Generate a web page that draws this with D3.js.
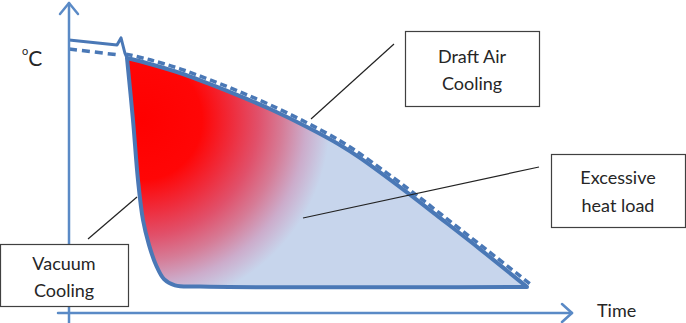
<!DOCTYPE html>
<html>
<head>
<meta charset="utf-8">
<script src="https://cdn.jsdelivr.net/npm/d3@7"></script>
<style>
  body { margin: 0; background: #fff; }
  svg { display: block; }
  .note text { font-family: Lato, 'Open Sans', sans-serif; font-size: 18px; fill: #262626; text-anchor: middle; }
</style>
</head>
<body>
<div id="chart"></div>
<script>
// time / temperature in arbitrary units (0-100)
const preCoolSolid = [[0, 91], [9.6, 89.3], [10.4, 91.7], [11.2, 86.5], [11.6, 85]];
const preCoolDashed = [[0, 88], [10, 86]];
const vacuumEdge = [
  [11.6, 85], [12.8, 64.3], [13.8, 44.3], [14.8, 31], [16, 22.7], [17.4, 16],
  [19, 11.3], [21.2, 9.2], [26.2, 8.8], [91.6, 8.7]
];
const draftEdge = [
  [11.6, 85], [16.2, 83], [22.2, 80], [28.2, 76.3], [34.2, 72.3], [40.2, 68], [47.6, 62],
  [54.2, 56], [58.2, 51.7], [67.6, 40.2], [74.2, 31.7], [82.2, 21.3], [91.6, 8.7]
];
const draftDashed = [
  [11.4, 86.3], [16.2, 84.4], [22.2, 81.4], [28.2, 77.7], [34.2, 73.7], [40.2, 69.4], [47.6, 63.4],
  [54.2, 57.4], [58.2, 53.1], [67.6, 41.7], [74.2, 33.2], [82.2, 22.8], [92.6, 9.2]
];
const noteLabels = [['Vacuum', 'Cooling'], ['Draft Air', 'Cooling'], ['Excessive', 'heat load']];
const xLabel = 'Time';
const yLabel = 'C';

const W = 686, H = 323;
const svg = d3.select('#chart').append('svg').attr('width', W).attr('height', H);

const x = d3.scaleLinear().domain([0, 100]).range([69, 569]);
const y = d3.scaleLinear().domain([0, 100]).range([313, 13]);

const blue = '#4a78b6';
const axisBlue = '#5a8ac6';

// gradient for the heat load area
const defs = svg.append('defs');
const grad = defs.append('radialGradient')
  .attr('id', 'heat')
  .attr('gradientUnits', 'userSpaceOnUse')
  .attr('cx', 142).attr('cy', 120).attr('r', 200);
[[0, '#ff0000'], [0.3, '#ff0606'], [0.45, '#ef2c3c'], [0.58, '#e1506a'], [0.7, '#d67b96'],
 [0.82, '#ccaccb'], [0.94, '#c7d5ec'], [1, '#c7d5ec']]
  .forEach(s => grad.append('stop').attr('offset', s[0]).attr('stop-color', s[1]));

const line = d3.line().x(d => x(d[0])).y(d => y(d[1])).curve(d3.curveCatmullRom.alpha(0.5));
const straight = d3.line().x(d => x(d[0])).y(d => y(d[1]));

// area path: down the vacuum edge, back along the draft edge
const areaPath = line(vacuumEdge) + line(draftEdge.slice().reverse()).replace('M', 'L') + 'Z';
svg.append('path')
  .attr('d', areaPath)
  .attr('fill', 'url(#heat)')
  .attr('stroke', blue)
  .attr('stroke-width', 4)
  .attr('stroke-linejoin', 'round');

svg.append('path')
  .attr('d', straight(preCoolSolid))
  .attr('fill', 'none')
  .attr('stroke', blue)
  .attr('stroke-width', 3)
  .attr('stroke-linejoin', 'round');

svg.append('path')
  .attr('d', straight(preCoolDashed))
  .attr('fill', 'none')
  .attr('stroke', blue)
  .attr('stroke-width', 3.5)
  .attr('stroke-dasharray', '8,5');

svg.append('path')
  .attr('d', line(draftDashed))
  .attr('fill', 'none')
  .attr('stroke', blue)
  .attr('stroke-width', 3.5)
  .attr('stroke-dasharray', '7,4');

// axes with open arrow heads
const axes = svg.append('g').attr('stroke', axisBlue).attr('stroke-width', 2.5).attr('fill', 'none')
  .attr('stroke-linecap', 'round').attr('stroke-linejoin', 'round');
axes.append('line').attr('x1', x(0)).attr('x2', x(0)).attr('y1', 3).attr('y2', H);
axes.append('path').attr('d', `M${x(0) - 9},14L${x(0)},3L${x(0) + 9},14`);
axes.append('line').attr('x1', 58).attr('x2', 572).attr('y1', y(0)).attr('y2', y(0));
axes.append('path').attr('d', `M562,${y(0) - 9}L572,${y(0)}L562,${y(0) + 9}`);

svg.append('text')
  .attr('x', 597).attr('y', 317)
  .style('font-family', 'Lato, sans-serif').style('font-size', '18px').attr('fill', '#262626')
  .text(xLabel);

const yl = svg.append('text')
  .attr('x', 22).attr('y', 66)
  .style('font-family', 'Lato, sans-serif').style('font-size', '21px').attr('fill', '#262626');
yl.append('tspan').attr('font-size', '11px').attr('dy', -11).text('o');
yl.append('tspan').attr('dy', 11).text(yLabel);

// annotation boxes and leader lines
const notes = [
  { box: [0, 244, 128, 62], lines: [270, 297], from: [88, 239], to: [137, 197] },
  { box: [405, 31, 134, 75], lines: [63, 90], from: [394, 44], to: [311, 119] },
  { box: [551, 154, 134, 73], lines: [184, 212], from: [539, 167], to: [303, 218] }
];
notes.forEach((n, i) => {
  const g = svg.append('g').attr('class', 'note');
  g.append('line')
    .attr('x1', n.from[0]).attr('y1', n.from[1])
    .attr('x2', n.to[0]).attr('y2', n.to[1])
    .attr('stroke', '#222').attr('stroke-width', 1.2);
  g.append('rect')
    .attr('x', n.box[0] + 0.5).attr('y', n.box[1] + 0.5)
    .attr('width', n.box[2]).attr('height', n.box[3])
    .attr('fill', '#fff').attr('stroke', '#404040').attr('stroke-width', 1.2);
  noteLabels[i].forEach((t, j) => {
    g.append('text')
      .attr('x', n.box[0] + n.box[2] / 2)
      .attr('y', n.lines[j])
      .text(t);
  });
});
</script>
</body>
</html>
